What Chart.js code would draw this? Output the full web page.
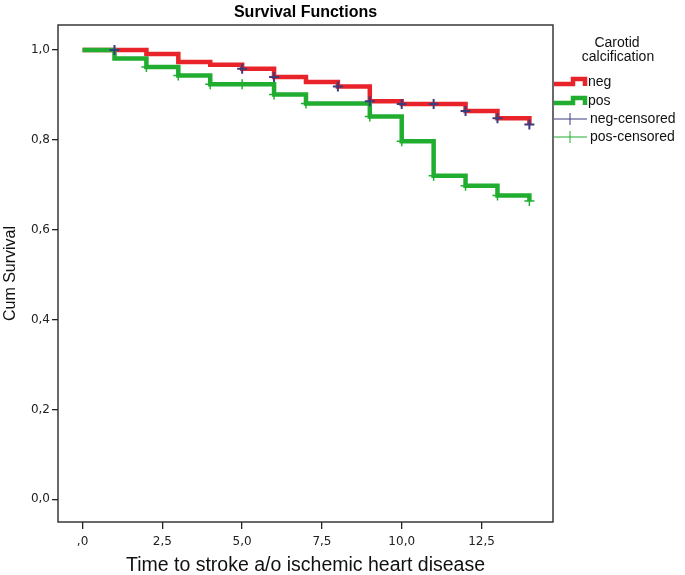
<!DOCTYPE html>
<html>
<head>
<meta charset="utf-8">
<title>Survival Functions</title>
<script src="https://cdn.jsdelivr.net/npm/chart.js@4.4.1/dist/chart.umd.min.js"></script>
<style>
  html, body { margin: 0; padding: 0; background: #fff; }
  canvas { display: block; }
</style>
</head>
<body>
<canvas id="chart" width="685" height="575"></canvas>
<script>
// Kaplan-Meier steps (time in years, cumulative survival)
const negTimes = [0, 2, 3, 4, 5, 6, 7, 8, 9, 10, 12, 13, 14];
const negSurv = [1.0, 0.991, 0.973, 0.967, 0.958, 0.940, 0.929, 0.919, 0.886, 0.880, 0.864, 0.848, 0.834];
const posTimes = [0, 1, 2, 3, 4, 6, 7, 9, 10, 11, 12, 13, 14];
const posSurv = [1.0, 0.981, 0.962, 0.943, 0.924, 0.901, 0.881, 0.852, 0.797, 0.720, 0.698, 0.676, 0.664];

// censored observations
const negCensored = [1, 5, 6, 8, 9, 10, 11, 12, 13, 14];
const posCensored = [2, 3, 4, 5, 6, 7, 9, 10, 11, 12, 13, 14];

const xTicks = [0, 2.5, 5, 7.5, 10, 12.5];
const xTickLabels = [',0', '2,5', '5,0', '7,5', '10,0', '12,5'];
const yTicks = [0, 0.2, 0.4, 0.6, 0.8, 1.0];
const yTickLabels = ['0,0', '0,2', '0,4', '0,6', '0,8', '1,0'];

const RED = '#e8232a';
const GREEN = '#21ad2f';
const NAVY = '#3a3d7c';

// survival value at time t from a step curve
function survAt(times, surv, t) {
  let v = surv[0];
  for (let i = 0; i < times.length; i++) {
    if (times[i] <= t) v = surv[i];
  }
  return v;
}

function stepPoints(times, surv) {
  return times.map((t, i) => ({ x: t, y: surv[i] }));
}

function censorPoints(cens, times, surv) {
  return cens.map(t => ({ x: t, y: survAt(times, surv, t) }));
}

// plot frame, drawn on top of the axes
const framePlugin = {
  id: 'frame',
  afterDraw(chart) {
    const { ctx, chartArea: a } = chart;
    ctx.save();
    ctx.strokeStyle = '#2a2a2a';
    ctx.lineWidth = 1.4;
    ctx.strokeRect(a.left, a.top, a.right - a.left, a.bottom - a.top);
    ctx.restore();
  }
};

// SPSS style legend to the right of the plot
const legendPlugin = {
  id: 'spssLegend',
  afterDraw(chart) {
    const ctx = chart.ctx;
    const ds = chart.data.datasets;
    ctx.save();
    ctx.fillStyle = '#111';
    ctx.font = '14px "Liberation Sans", Arial, sans-serif';
    ctx.textAlign = 'center';
    ctx.textBaseline = 'middle';
    ctx.fillText('Carotid', 617, 43);
    ctx.fillText('calcification', 618, 57);

    ctx.textAlign = 'left';
    const rows = [82, 101, 119, 137];
    // step icons for the two curves
    [0, 1].forEach(i => {
      const y = rows[i];
      ctx.strokeStyle = ds[i].borderColor;
      ctx.lineWidth = 4.5;
      ctx.lineJoin = 'miter';
      ctx.beginPath();
      ctx.moveTo(554, y + 2);
      ctx.lineTo(573, y + 2);
      ctx.lineTo(573, y - 3);
      ctx.lineTo(585, y - 3);
      ctx.lineTo(585, y + 4);
      ctx.stroke();
      ctx.fillStyle = '#111';
      ctx.fillText(ds[i].label, 588, y);
    });
    // line + cross for censored marks
    [2, 3].forEach(i => {
      const y = rows[i];
      ctx.strokeStyle = ds[i].borderColor;
      ctx.lineWidth = 1;
      ctx.beginPath();
      ctx.moveTo(554, y);
      ctx.lineTo(587, y);
      ctx.moveTo(570, y - 6);
      ctx.lineTo(570, y + 6);
      ctx.stroke();
      ctx.fillStyle = '#111';
      ctx.fillText(ds[i].label, 590, y);
    });
    ctx.restore();
  }
};

const tickFont = { family: '"DejaVu Sans", Verdana, sans-serif', size: 12 };

new Chart(document.getElementById('chart'), {
  type: 'line',
  data: {
    datasets: [
      {
        label: 'neg',
        data: stepPoints(negTimes, negSurv),
        borderColor: RED,
        backgroundColor: RED,
        borderWidth: 4.5,
        stepped: 'before',
        borderJoinStyle: 'miter',
        pointRadius: 0,
        fill: false,
        order: 3
      },
      {
        label: 'pos',
        data: stepPoints(posTimes, posSurv),
        borderColor: GREEN,
        backgroundColor: GREEN,
        borderWidth: 4.5,
        stepped: 'before',
        borderJoinStyle: 'miter',
        pointRadius: 0,
        fill: false,
        order: 2
      },
      {
        label: 'neg-censored',
        data: censorPoints(negCensored, negTimes, negSurv),
        borderColor: NAVY,
        backgroundColor: NAVY,
        showLine: false,
        pointStyle: 'cross',
        pointRadius: 5,
        pointBorderWidth: 2,
        order: 1
      },
      {
        label: 'pos-censored',
        data: censorPoints(posCensored, posTimes, posSurv),
        borderColor: GREEN,
        backgroundColor: GREEN,
        showLine: false,
        pointStyle: 'cross',
        pointRadius: 5,
        pointBorderWidth: 1.5,
        order: 1
      }
    ]
  },
  options: {
    responsive: false,
    animation: false,
    devicePixelRatio: 1,
    layout: { padding: { left: 0, right: 132, top: 0, bottom: 0 } },
    plugins: {
      legend: { display: false },
      tooltip: { enabled: false },
      title: {
        display: true,
        fullSize: false,
        text: 'Survival Functions',
        color: '#000',
        font: { family: '"Liberation Sans", Arial, sans-serif', size: 16, weight: 'bold', lineHeight: 1.2 },
        padding: { top: 2.5, bottom: 3.3 }
      }
    },
    scales: {
      x: {
        type: 'linear',
        min: -0.77,
        max: 14.74,
        afterFit(scale) { scale.height = 53; },
        afterBuildTicks(scale) { scale.ticks = xTicks.map(v => ({ value: v })); },
        border: { display: false },
        grid: { drawOnChartArea: false, drawTicks: true, tickLength: 7, color: '#222', lineWidth: 1.3 },
        ticks: {
          autoSkip: false,
          maxRotation: 0,
          padding: 6,
          color: '#222',
          font: tickFont,
          callback: (value, index) => xTickLabels[index]
        },
        title: {
          display: true,
          text: 'Time to stroke a/o ischemic heart disease',
          color: '#111',
          font: { family: '"Liberation Sans", Arial, sans-serif', size: 19.5, lineHeight: 0.95 },
          padding: { top: 0, bottom: 0 }
        }
      },
      y: {
        type: 'linear',
        min: -0.0505,
        max: 1.0556,
        afterFit(scale) { scale.width = 58; },
        afterBuildTicks(scale) { scale.ticks = yTicks.map(v => ({ value: v })); },
        border: { display: false },
        grid: { drawOnChartArea: false, drawTicks: true, tickLength: 6, color: '#222', lineWidth: 1.3 },
        ticks: {
          autoSkip: false,
          padding: 2,
          color: '#222',
          font: tickFont,
          callback: (value, index) => yTickLabels[index]
        },
        title: {
          display: true,
          text: 'Cum Survival',
          color: '#111',
          font: { family: '"Liberation Sans", Arial, sans-serif', size: 16, lineHeight: 1.2 },
          padding: { top: 0.5, bottom: 0 }
        }
      }
    }
  },
  plugins: [framePlugin, legendPlugin]
});
</script>
</body>
</html>
